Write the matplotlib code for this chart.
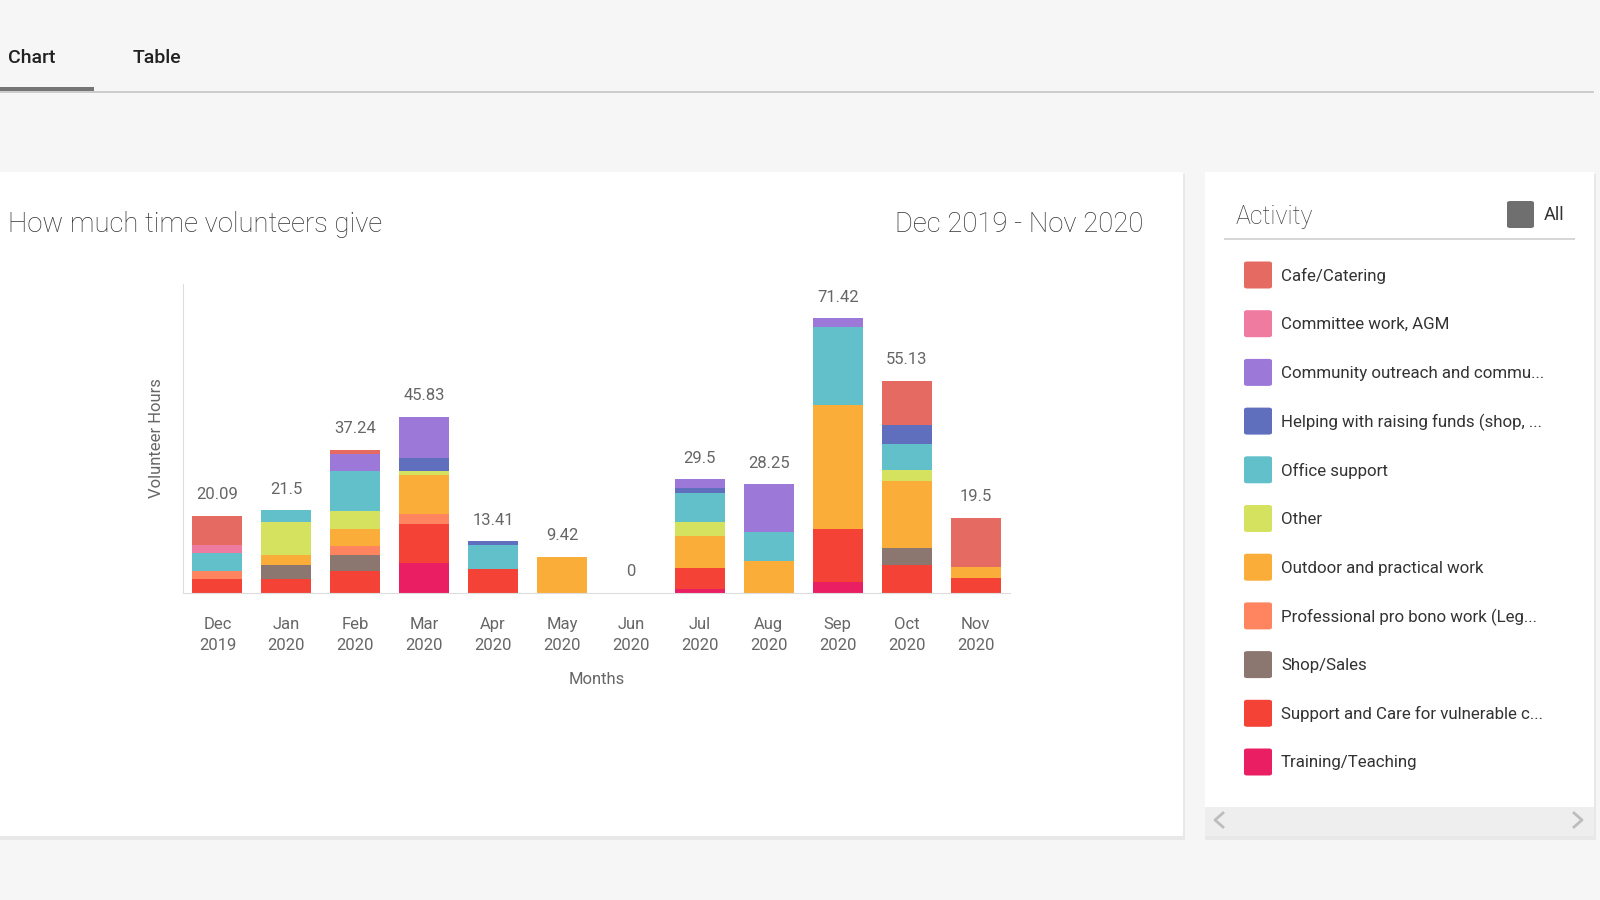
import matplotlib.pyplot as plt
from matplotlib.patches import Rectangle, FancyBboxPatch
from matplotlib.lines import Line2D
import numpy as np

plt.rcParams['font.family'] = ['Roboto', 'DejaVu Sans']

# data
months = ["Dec\n2019", "Jan\n2020", "Feb\n2020", "Mar\n2020", "Apr\n2020", "May\n2020",
          "Jun\n2020", "Jul\n2020", "Aug\n2020", "Sep\n2020", "Oct\n2020", "Nov\n2020"]
totals = ["20.09", "21.5", "37.24", "45.83", "13.41", "9.42", "0", "29.5", "28.25", "71.42", "55.13", "19.5"]

activities = ["Cafe/Catering", "Committee work, AGM", "Community outreach and commu...",
              "Helping with raising funds (shop, ...", "Office support", "Other",
              "Outdoor and practical work", "Professional pro bono work (Leg...",
              "Shop/Sales", "Support and Care for vulnerable c...", "Training/Teaching"]
colors = ["#e46a62", "#ef7ba0", "#9c79d8", "#5f6ebd", "#62c0cb", "#d5e25f",
          "#fbad3a", "#fe8560", "#8b776f", "#f44336", "#e91e63"]

cafe =         [7.67, 0,    1.13, 0,     0,    0,    0, 0,   0,    0,     11.6,  12.8]
committee =    [2.08, 0,    0,    0,     0,    0,    0, 0,   0,    0,     0,     0]
community =    [0,    0,    4.42, 10.83, 0,    0,    0, 2.3, 12.3, 2.35,  0,     0]
fundraising =  [0,    0,    0,    3.2,   1.0,  0,    0, 1.2, 0,    0,     4.75,  0]
office =       [4.67, 3.0,  10.5, 0,     6.16, 0,    0, 7.6, 7.55, 20.2,  6.93,  0]
other =        [0,    8.6,  4.5,  1.2,   0,    0,    0, 3.6, 0,    0,     2.7,   0]
outdoor =      [0,    2.5,  4.42, 10.0,  0,    9.42, 0, 8.3, 8.4,  32.3,  17.5,  2.9]
professional = [2.09, 0,    2.42, 2.6,   0,    0,    0, 0,   0,    0,     0,     0]
shop =         [0,    3.7,  4.25, 0,     0,    0,    0, 0,   0,    0,     4.3,   0]
support =      [3.58, 3.7,  5.6,  10.25, 6.25, 0,    0, 5.5, 0,    13.82, 7.35,  3.8]
training =     [0,    0,    0,    7.75,  0,    0,    0, 1.0, 0,    2.75,  0,     0]

series = [cafe, committee, community, fundraising, office, other,
          outdoor, professional, shop, support, training]

W, H = 1600, 900
fig = plt.figure(figsize=(16, 9), dpi=100)
fig.patch.set_facecolor("#f6f6f6")


def fx(x):
    return x / W


def fy(y):
    return 1 - y / H


def box(x0, y0, x1, y1, color, z=0):
    fig.patches.append(Rectangle((fx(x0), fy(y1)), fx(x1 - x0), (y1 - y0) / H,
                                 transform=fig.transFigure, facecolor=color,
                                 edgecolor="none", zorder=z))


def chevron(cx, cy, direction):
    d = 4 * direction
    fig.lines.append(Line2D([fx(cx - d), fx(cx + d), fx(cx - d)], [fy(cy - 7), fy(cy), fy(cy + 7)],
                            transform=fig.transFigure, color="#bdbdbd", lw=2, zorder=3))


# tabs
fig.text(fx(8), fy(58), "Chart", fontsize=14, fontweight="medium", color="#222222", va="center")
fig.text(fx(133), fy(58), "Table", fontsize=14, fontweight="medium", color="#222222", va="center")
box(0, 87, 94, 91, "#757575", 2)
box(0, 91, 1594, 92.5, "#cccccc", 1)

# cards with soft shadow
box(0, 174, 1185, 840, "#e8e8e8")
box(0, 172, 1183, 836, "#ffffff", 1)
box(1205, 174, 1596, 840, "#e8e8e8")
box(1205, 172, 1594, 836, "#ffffff", 1)
box(1205, 807, 1594, 836, "#eeeeee", 2)
chevron(1219, 820, -1)
chevron(1578, 820, 1)

# chart titles
fig.text(fx(8), fy(224), "How much time volunteers give", fontsize=19.8, fontweight="light",
         color="#333333", va="center", zorder=3)
fig.text(fx(1143), fy(224), "Dec 2019 - Nov 2020", fontsize=19.8, fontweight="light",
         color="#333333", va="center", ha="right", zorder=3)

# stacked bars
ax = fig.add_axes([fx(183), fy(593), (1010 - 183) / W, (593 - 284) / H])
ax.set_zorder(4)
ax.patch.set_alpha(0)
x = np.arange(len(months))
bottom = np.zeros(len(months))
for vals, col in zip(series[::-1], colors[::-1]):
    ax.bar(x, vals, bottom=bottom, width=0.726, color=col, edgecolor="none")
    bottom += np.array(vals)

for xi, top, lab in zip(x, bottom, totals):
    ax.annotate(lab, (xi, top), xytext=(0, 21), textcoords="offset pixels",
                ha="center", va="center", fontsize=12, color="#666666")

ax.set_xlim(-0.5, 11.5)
ax.set_ylim(0, 80.3)
ax.set_xticks(x)
ax.set_xticklabels(months, fontsize=12, color="#666666", linespacing=1.5)
ax.set_yticks([])
ax.tick_params(axis="x", length=0, pad=17)
for s in ["top", "right"]:
    ax.spines[s].set_visible(False)
ax.spines["left"].set_color("#dddddd")
ax.spines["bottom"].set_color("#dddddd")
ax.set_xlabel("Months", fontsize=12, color="#666666", labelpad=14)
ax.set_ylabel("Volunteer Hours", fontsize=12, color="#666666", labelpad=14)

# legend panel
fig.text(fx(1236), fy(217), "Activity", fontsize=18, fontweight="light", color="#444444",
         va="center", zorder=3)
fig.patches.append(FancyBboxPatch((fx(1507), fy(228)), fx(27), 27 / H,
                                  boxstyle="round,pad=0,rounding_size=0.002",
                                  transform=fig.transFigure, facecolor="#6f6f6f",
                                  edgecolor="none", zorder=3))
fig.text(fx(1544), fy(215), "All", fontsize=13, color="#333333", va="center", zorder=3)
box(1224, 238.5, 1575, 240, "#d6d6d6", 3)

for i, (name, col) in enumerate(zip(activities, colors)):
    cy = 275 + i * 48.7
    fig.patches.append(FancyBboxPatch((fx(1244), fy(cy + 13.5)), fx(28), 27 / H,
                                      boxstyle="round,pad=0,rounding_size=0.002",
                                      transform=fig.transFigure, facecolor=col,
                                      edgecolor="none", zorder=3))
    fig.text(fx(1281), fy(cy + 1), name, fontsize=12.2, color="#333333", va="center", zorder=3)

fig.savefig("out.png", dpi=100, facecolor=fig.get_facecolor())
